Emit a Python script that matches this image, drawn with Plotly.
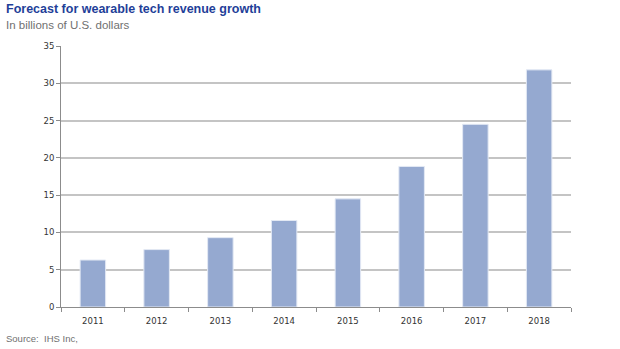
import plotly.graph_objects as go

years = ["2011", "2012", "2013", "2014", "2015", "2016", "2017", "2018"]
revenue = [6.3, 7.7, 9.3, 11.6, 14.5, 18.85, 24.5, 31.8]
y_ticks = [0, 5, 10, 15, 20, 25, 30, 35]

fig = go.Figure()
fig.add_trace(go.Bar(
    x=years, y=revenue,
    marker=dict(color="#95A9D0", line=dict(color="#E3E9F4", width=1)),
    hoverinfo="x+y",
))

fig.update_layout(
    width=620, height=349,
    margin=dict(l=61, r=49, t=46, b=42),
    paper_bgcolor="white", plot_bgcolor="white",
    bargap=0.6,
    showlegend=False,
    font=dict(family="DejaVu Sans", size=8.5, color="#333333"),
    xaxis=dict(
        type="category", tickson="boundaries",
        ticks="outside", ticklen=4, tickcolor="#8C8C8C",
        showline=True, linecolor="#8C8C8C", linewidth=1,
        showgrid=False, tickfont=dict(size=8.5, color="#333333"),
        ticklabelstandoff=6,
    ),
    yaxis=dict(
        range=[0, 35], tickvals=y_ticks,
        ticks="outside", ticklen=4, tickcolor="#8C8C8C",
        showline=True, linecolor="#8C8C8C", linewidth=1,
        showgrid=True, gridcolor="#C4C4C4", gridwidth=1.5,
        zeroline=False, tickfont=dict(size=8.5, color="#333333"),
    ),
    annotations=[
        dict(text="<b>Forecast for wearable tech revenue growth</b>",
             xref="paper", yref="paper", x=0, y=1, xanchor="left", yanchor="bottom",
             xshift=-57, yshift=27.5, showarrow=False,
             font=dict(family="Liberation Sans", size=12.5, color="#1F3F99")),
        dict(text="In billions of U.S. dollars",
             xref="paper", yref="paper", x=0, y=1, xanchor="left", yanchor="bottom",
             xshift=-57, yshift=13, showarrow=False,
             font=dict(family="Liberation Sans", size=11.5, color="#707070")),
        dict(text="Source:\u00a0 IHS Inc,",
             xref="paper", yref="paper", x=0, y=0, xanchor="left", yanchor="top",
             xshift=-57, yshift=-24, showarrow=False,
             font=dict(family="Liberation Sans", size=9.5, color="#707070")),
    ],
)

fig.write_html("out.html")
